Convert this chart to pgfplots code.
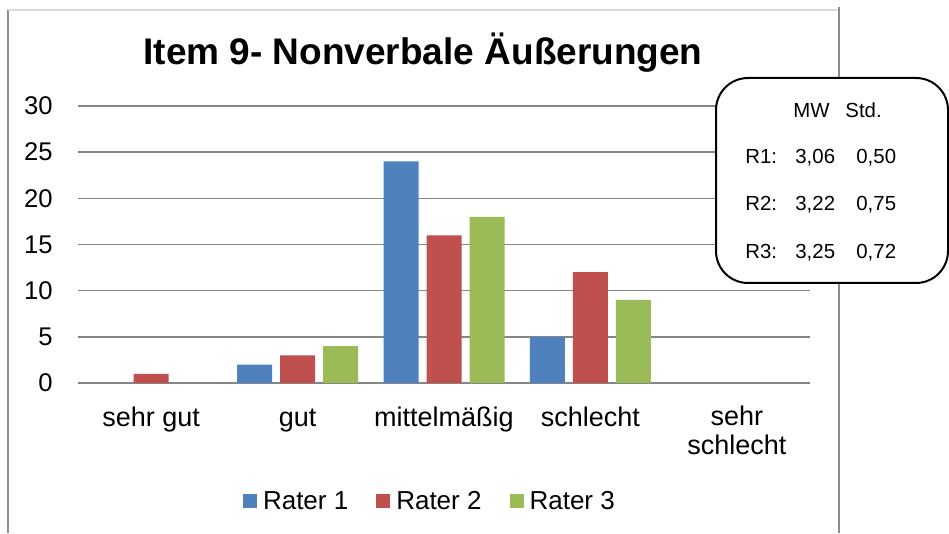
\documentclass[border=0pt]{standalone}
\usepackage{fontspec}
\setmainfont{Liberation Sans}
\usepackage{pgfplots}
\pgfplotsset{compat=1.18}
\definecolor{rblue}{HTML}{4F81BD}
\definecolor{rred}{HTML}{C0504D}
\definecolor{rgreen}{HTML}{9BBB59}
\definecolor{gridgray}{HTML}{868686}
\definecolor{framegray}{HTML}{8C8C8C}
\definecolor{toplight}{HTML}{D9D9D9}
\begin{document}
% 1 unit = one pixel of the 949x533 reference = 0.5pt
\begin{tikzpicture}[x=0.5pt, y=0.5pt]
\path (0,0) rectangle (949,533);
% outer chart frame
\draw[framegray, line width=0.75pt] (8,0) -- (8,523);
\draw[toplight, line width=0.6pt] (8,523) -- (839,523);
\draw[framegray, line width=0.75pt] (839,526) -- (839,0);
\node[anchor=base, font=\fontsize{18.5}{22}\selectfont\bfseries] at (423,468)
  {Item 9- Nonverbale Äußerungen};
\begin{axis}[
  name=ax,
  at={(39pt,75pt)}, anchor=south west,
  scale only axis, width=366pt, height=138.5pt,
  ybar, bar width=17.5pt,
  xmin=-0.5, xmax=4.5, ymin=0, ymax=30,
  xtick={0,1,2,3,4},
  xticklabels={sehr gut,gut,mittelmäßig,schlecht,{sehr\\schlecht}},
  ytick={0,5,...,30},
  ymajorgrids, grid style={gridgray, line width=0.75pt},
  axis line style={draw=none}, major tick length=0pt,
  /pgf/number format/assume math mode=true,
  yticklabel style={inner sep=0pt, anchor=east, xshift=-12.5pt,
    font=\fontsize{12.8}{15}\selectfont},
  xticklabel style={inner sep=0pt, anchor=north, yshift=-11.5pt, align=center,
    font=\fontsize{13.5}{14.5}\selectfont,
    execute at begin node={\rule{0pt}{0.73em}}},
  legend image code/.code={\fill[#1] (0pt,-3pt) rectangle (7pt,4pt);},
  legend columns=3,
  legend style={draw=none, fill=none, at={(0.4835,-0.43)}, anchor=center,
    font=\fontsize{13}{15}\selectfont,
    nodes={inner xsep=3pt},
    /tikz/every even column/.append style={column sep=11pt}},
]
\addplot[fill=rblue, draw=none, bar shift=-21.5pt] coordinates {(0,0) (1,2) (2,24) (3,5) (4,0)};
\addplot[fill=rred, draw=none, bar shift=0pt] coordinates {(0,1) (1,3) (2,16) (3,12) (4,0)};
\addplot[fill=rgreen, draw=none, bar shift=21.5pt] coordinates {(0,0) (1,4) (2,18) (3,9) (4,0)};
\legend{Rater 1,Rater 2,Rater 3}
\end{axis}
% statistics box
\draw[black, line width=1pt, fill=white, rounded corners=16pt] (716,455) rectangle (948,250);
\begin{scope}[every node/.style={anchor=base west, inner sep=0pt, font=\fontsize{10.2}{12}\selectfont}]
\node at (793,415) {MW};
\node at (845,415) {Std.};
\node at (745,369) {R1:};
\node at (795,369) {3,06};
\node at (856,369) {0,50};
\node at (745,322) {R2:};
\node at (795,322) {3,22};
\node at (856,322) {0,75};
\node at (745,274) {R3:};
\node at (795,274) {3,25};
\node at (856,274) {0,72};
\end{scope}
\end{tikzpicture}
\end{document}
